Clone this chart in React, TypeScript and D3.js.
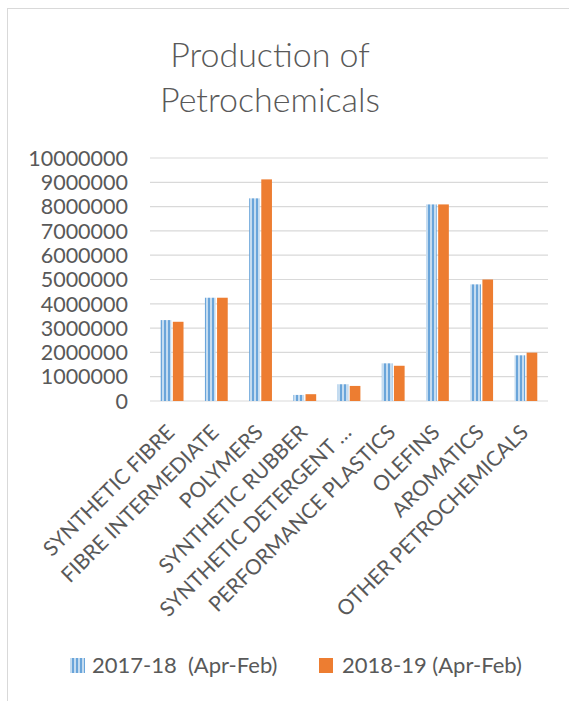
import { scaleBand, scaleLinear } from 'd3'

const categories = [
  'SYNTHETIC FIBRE',
  'FIBRE INTERMEDIATE',
  'POLYMERS',
  'SYNTHETIC RUBBER',
  'SYNTHETIC DETERGENT …',
  'PERFORMANCE PLASTICS',
  'OLEFINS',
  'AROMATICS',
  'OTHER PETROCHEMICALS',
]
const seriesNames = ['2017-18  (Apr-Feb)', '2018-19 (Apr-Feb)']
const values2017 = [3330000, 4250000, 8340000, 250000, 690000, 1550000, 8090000, 4800000, 1880000]
const values2018 = [3260000, 4250000, 9120000, 280000, 620000, 1450000, 8090000, 5000000, 1990000]
const yTicks = [0, 1000000, 2000000, 3000000, 4000000, 5000000, 6000000, 7000000, 8000000, 9000000, 10000000]

const font = 'Lato, Carlito, Calibri, sans-serif'
const textColor = '#595959'
const gridColor = '#d9d9d9'
const orange = '#ed7d31'

export default function App() {
  const width = 569
  const height = 701
  const plotLeft = 150
  const plotRight = 548
  const plotTop = 158
  const plotBottom = 401

  const x = scaleBand<string>().domain(categories).range([plotLeft, plotRight])
  const bw = x.bandwidth()
  const x1 = scaleBand<string>()
    .domain(seriesNames)
    .range([bw / 2 - 11.4, bw / 2 + 11.4])
    .paddingInner(0.12)
  const y = scaleLinear().domain([0, 10000000]).range([plotBottom, plotTop])

  const series = [
    { name: seriesNames[0], values: values2017, fill: 'url(#vstripe)' },
    { name: seriesNames[1], values: values2018, fill: orange },
  ]

  return (
    <svg
      width={width}
      height={height}
      style={{ position: 'absolute', left: 0, top: 0, background: '#fff' }}
      fontFamily={font}
    >
      <defs>
        <pattern id="vstripe" width={4} height={4} patternUnits="userSpaceOnUse">
          <rect width={4} height={4} fill="#c5dcf0" />
          <rect width={2} height={4} fill="#6aa5da" />
        </pattern>
      </defs>
      <rect x={7.5} y={8.5} width={700} height={800} fill="#fff" stroke={gridColor} />

      <text x={270} y={67} textAnchor="middle" fill={textColor} fontSize={34} fontWeight={300}>
        Production of
      </text>
      <text x={270} y={112} textAnchor="middle" fill={textColor} fontSize={34} fontWeight={300}>
        Petrochemicals
      </text>

      {yTicks.map((t) => (
        <g key={t}>
          <line x1={plotLeft} x2={plotRight} y1={y(t)} y2={y(t)} stroke={gridColor} strokeWidth={1.2} />
          <text x={128} y={y(t)} dy="0.36em" textAnchor="end" fill={textColor} fontSize={21.5}>
            {t}
          </text>
        </g>
      ))}

      {series.map((s) =>
        categories.map((c, i) => (
          <rect
            key={s.name + c}
            x={(x(c) ?? 0) + (x1(s.name) ?? 0)}
            y={y(s.values[i])}
            width={x1.bandwidth()}
            height={plotBottom - y(s.values[i])}
            fill={s.fill}
          />
        )),
      )}

      {categories.map((c) => {
        const cx = (x(c) ?? 0) + bw / 2
        return (
          <text
            key={c}
            transform={`translate(${cx - 7},${plotBottom + 22}) rotate(-45)`}
            textAnchor="end"
            fill={textColor}
            fontSize={21}
            dy="0.72em"
          >
            {c}
          </text>
        )
      })}

      <rect x={70} y={658} width={15} height={15} fill="url(#vstripe)" />
      <text x={92} y={673} fill={textColor} fontSize={22} style={{ whiteSpace: 'pre' }}>
        {seriesNames[0]}
      </text>
      <rect x={319} y={658} width={14} height={15} fill={orange} />
      <text x={342} y={673} fill={textColor} fontSize={22}>
        {seriesNames[1]}
      </text>
    </svg>
  )
}
